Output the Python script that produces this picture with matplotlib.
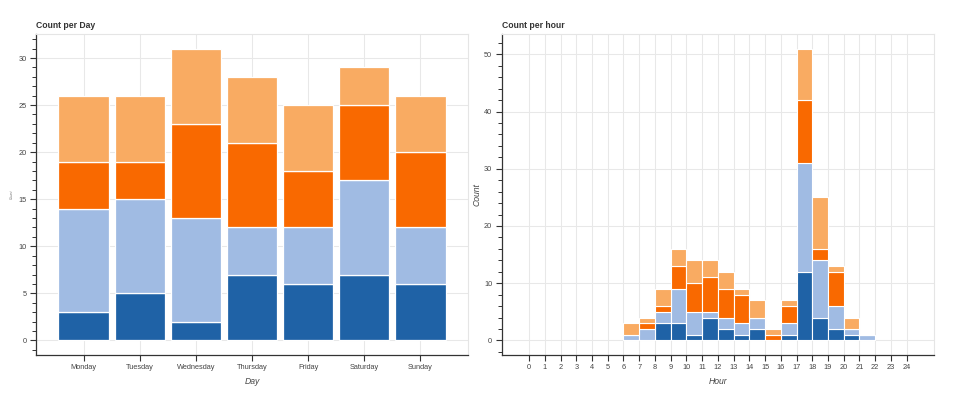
import matplotlib
matplotlib.use("Agg")
import matplotlib.pyplot as plt
from matplotlib.ticker import MultipleLocator, FixedLocator
import numpy as np

plt.rcParams['font.family'] = ['Liberation Sans', 'DejaVu Sans']

# ---- data ----
days = ["Monday", "Tuesday", "Wednesday", "Thursday", "Friday", "Saturday", "Sunday"]
day_s1 = [3, 5, 2, 7, 6, 7, 6]        # dark blue
day_s2 = [11, 10, 11, 5, 6, 10, 6]    # light blue
day_s3 = [5, 4, 10, 9, 6, 8, 8]       # orange
day_s4 = [7, 7, 8, 7, 7, 4, 6]        # light orange

hours = list(range(6, 22))
hour_s1 = [0, 0, 3, 3, 1, 4, 2, 1, 2, 0, 1, 12, 4, 2, 1, 0]
hour_s2 = [1, 2, 2, 6, 4, 1, 2, 2, 2, 0, 2, 19, 10, 4, 1, 1]
hour_s3 = [0, 1, 1, 4, 5, 6, 5, 5, 0, 1, 3, 11, 2, 6, 0, 0]
hour_s4 = [2, 1, 3, 3, 4, 3, 3, 1, 3, 1, 1, 9, 9, 1, 2, 0]
hour_ticks = list(range(0, 25))

colors = ['#1f62a6', '#a0bbe3', '#f96900', '#f9ab62']

W, H = 973, 396
fig = plt.figure(figsize=(W / 100, H / 100), dpi=100)

def frac(x0, y0, x1, y1):
    return [x0 / W, 1 - y1 / H, (x1 - x0) / W, (y1 - y0) / H]

ax1 = fig.add_axes(frac(36, 34, 468, 355))
ax2 = fig.add_axes(frac(501.7, 34, 934, 355))

def style(ax):
    ax.set_axisbelow(True)
    for s in ['top', 'right']:
        ax.spines[s].set_color('#e5e5e5')
        ax.spines[s].set_linewidth(0.8)
    for s in ['left', 'bottom']:
        ax.spines[s].set_color('#333333')
        ax.spines[s].set_linewidth(0.9)
    ax.tick_params(axis='both', which='major', direction='out', length=4.3,
                   width=0.8, color='#333333', labelsize=5.3, labelcolor='#444444', pad=2.5)
    ax.tick_params(axis='y', which='minor', direction='out', length=2.9,
                   width=0.7, color='#333333')
    ax.grid(True, which='major', color='#e8e8e8', linewidth=0.75)

# ---- left: per day ----
x = np.arange(len(days))
bottom = np.zeros(len(days))
for vals, c in zip([day_s1, day_s2, day_s3, day_s4], colors):
    ax1.bar(x, vals, bottom=bottom, width=0.9, color=c, edgecolor='white', linewidth=0.9)
    bottom += np.array(vals)
ax1.set_xlim(-0.85, 6.85)
ax1.set_ylim(-1.55, 32.55)
ax1.set_xticks(x)
ax1.set_xticklabels(days)
ax1.yaxis.set_major_locator(MultipleLocator(5))
ax1.yaxis.set_minor_locator(MultipleLocator(1))
style(ax1)
ax1.set_title("Count per Day", loc='left', fontsize=6.2, fontweight='bold', color='#333333', pad=4)
ax1.set_xlabel("Day", fontsize=6.2, style='italic', color='#444444', labelpad=4)
ax1.set_ylabel("Count", fontsize=2.5, style='italic', color='#666666', labelpad=3)

# ---- right: per hour ----
hx = np.array(hours) + 0.5
bottom = np.zeros(len(hours))
for vals, c in zip([hour_s1, hour_s2, hour_s3, hour_s4], colors):
    ax2.bar(hx, vals, bottom=bottom, width=1.0, color=c, edgecolor='white', linewidth=0.8)
    bottom += np.array(vals)
ax2.set_xlim(-1.74, 25.74)
ax2.set_ylim(-2.55, 53.55)
ax2.xaxis.set_major_locator(FixedLocator(hour_ticks))
ax2.set_xticklabels([str(h) for h in hour_ticks])
ax2.yaxis.set_major_locator(MultipleLocator(10))
ax2.yaxis.set_minor_locator(MultipleLocator(2))
style(ax2)
ax2.set_title("Count per hour", loc='left', fontsize=6.2, fontweight='bold', color='#333333', pad=4)
ax2.set_xlabel("Hour", fontsize=6.2, style='italic', color='#444444', labelpad=4)
ax2.set_ylabel("Count", fontsize=6.2, style='italic', color='#444444', labelpad=2)

fig.savefig("out.png", dpi=100)
